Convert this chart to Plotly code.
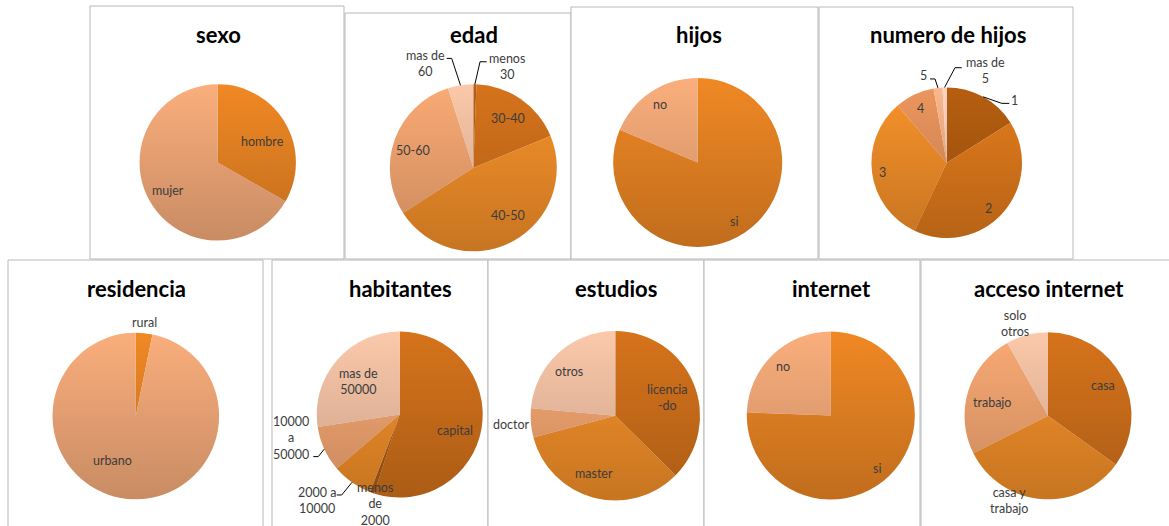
import base64
import math

import plotly.graph_objects as go

W, H = 1169, 526

# ---- survey data (percent of respondents) ----
sexo_labels = ["hombre", "mujer"]
sexo_values = [33.3, 66.7]

edad_labels = ["menos<br>30", "30-40", "40-50", "50-60", "mas de<br>60"]
edad_values = [0.6, 18.2, 47.1, 29.2, 4.9]

hijos_labels = ["si", "no"]
hijos_values = [81.3, 18.7]

num_hijos_labels = ["1", "2", "3", "4", "5", "mas de<br>5"]
num_hijos_values = [16.1, 40.9, 31.7, 8.5, 1.9, 0.9]

residencia_labels = ["rural", "urbano"]
residencia_values = [3.2, 96.8]

habitantes_labels = ["capital", "menos<br>de<br>2000", "2000 a<br>10000", "10000<br>a<br>50000", "mas de<br>50000"]
habitantes_values = [55.0, 0.8, 7.9, 8.9, 27.4]

estudios_labels = ["licencia<br>-do", "master", "doctor", "otros"]
estudios_values = [37.4, 33.5, 5.5, 23.6]

internet_labels = ["si", "no"]
internet_values = [75.6, 24.4]

acceso_labels = ["casa", "casa y<br>trabajo", "trabajo", "solo<br>otros"]
acceso_values = [34.9, 32.7, 24.3, 8.1]

# ---- styling ----
DARKEST = "#B65E10"
DARK = "#D6731B"
ORANGE = "#F8922A"
ORANGE2 = "#F08824"
PEACH = "#FAAA74"
PEACH2 = "#FAAE7C"
LIGHT = "#FBC8AA"

TITLE_FONT = dict(family="Lato", size=22, color="#000000", weight="bold")
LABEL_FONT = dict(family="Lato", size=12.5, color="#3C3C3C")
BORDER = "#B8B8B8"

# title centre height for the upper and lower rows of charts
TITLE_Y = {0: 34, 1: 288}

# each label: (radial factor, angle shift in degrees, leader) where leader is
# None or ((end_dx, end_dy), (elbow_dx, elbow_dy)) relative to the label centre
panels = [
    dict(title="sexo", row=0, labels=sexo_labels, values=sexo_values,
         colors=[ORANGE2, PEACH2], center=(217.7, 162.4), r=78.2,
         box=(90, 6, 344, 259),
         place=[(0.633, 4.5, None), (0.73, 0, None)]),
    dict(title="edad", row=0, labels=edad_labels, values=edad_values,
         colors=[DARKEST, DARK, ORANGE, PEACH, LIGHT], center=(473.3, 167.8), r=83.5,
         box=(345, 13, 571, 259),
         place=[(1.277, 17.2, ((-20, -4.8), (-26.7, -4.8))),
                (0.725, 0.4, None), (0.704, -9, None), (0.755, -3.5, None),
                (1.376, -15.5, ((20.7, -4.7), (25.7, -4.7)))]),
    dict(title="hijos", row=0, labels=hijos_labels, values=hijos_values,
         colors=[ORANGE2, PEACH2], center=(697.7, 162.4), r=84.5,
         box=(571, 7, 818, 259),
         place=[(0.826, 2.1, None), (0.819, 0.7, None)]),
    dict(title="numero de hijos", row=0, labels=num_hijos_labels, values=num_hijos_values,
         colors=[DARKEST, "#E47C1C", ORANGE, "#EC965E", "#FBB68C", "#FCD4C2"],
         center=(946.7, 162.7), r=75.3, box=(819, 7, 1073, 259),
         place=[(1.224, 18.2, ((-5, 3.3), (-12.6, 3.3))),
                (0.826, 5.6, None), (0.86, -1.2, None), (0.803, -0.5, None),
                (1.193, -8.4, ((6.7, 3), (11.7, 3))),
                (1.32, 24.3, ((-23.3, -3.3), (-30, -3.3)))]),
    dict(title="residencia", row=1, labels=residencia_labels, values=residencia_values,
         colors=[ORANGE2, PEACH2], center=(135.8, 416.0), r=83.3,
         box=(8, 260, 263, 540),
         place=[(1.125, -0.6, None), (0.604, 21.5, None)]),
    dict(title="habitantes", row=1, labels=habitantes_labels, values=habitantes_values,
         colors=[DARK, DARKEST, ORANGE, PEACH, LIGHT], center=(399.7, 414.5), r=83.0,
         box=(272, 260, 488, 540),
         place=[(0.692, 6.7, None), (1.115, -3.9, None),
                (1.44, 8.9, ((20, -5.5), (25, -5.5))),
                (1.345, 12.3, ((22.6, 18.2), (27.6, 18.2))),
                (0.64, -2, None)]),
    dict(title="estudios", row=1, labels=estudios_labels, values=estudios_values,
         colors=[DARK, ORANGE, PEACH, LIGHT], center=(615.3, 415.8), r=84.7,
         box=(488, 260, 704, 540),
         place=[(0.657, 3, None), (0.73, 4.9, None), (1.235, 0.2, None), (0.752, -3.7, None)]),
    dict(title="internet", row=1, labels=internet_labels, values=internet_values,
         colors=[ORANGE2, PEACH2], center=(830.8, 415.5), r=84.0,
         box=(704, 260, 920, 540),
         place=[(0.833, 2.9, None), (0.81, -0.3, None)]),
    dict(title="acceso internet", row=1, labels=acceso_labels, values=acceso_values,
         colors=[DARK, ORANGE, PEACH, LIGHT], center=(1048.0, 415.8), r=83.5,
         box=(921, 260, 1180, 540),
         place=[(0.754, -1.4, None), (1.12, 20.1, None), (0.692, -4, None), (1.176, -5, None)]),
]


def px(x):
    return x / W


def py(y):
    return 1 - y / H


# vertical shading laid over every pie
shade_svg = (
    '<svg xmlns="http://www.w3.org/2000/svg" width="200" height="200" viewBox="0 0 200 200">'
    '<defs><linearGradient id="g" x1="0" y1="0" x2="0" y2="1">'
    '<stop offset="0" stop-color="#000" stop-opacity="0"/>'
    '<stop offset="1" stop-color="#000" stop-opacity="0.2"/>'
    '</linearGradient></defs>'
    '<circle cx="100" cy="100" r="100" fill="url(#g)"/></svg>'
)
shade_src = "data:image/svg+xml;base64," + base64.b64encode(shade_svg.encode()).decode()

fig = go.Figure()
shapes, annotations, images = [], [], []

for p in panels:
    x0, y0, x1, y1 = p["box"]
    shapes.append(dict(type="rect", xref="paper", yref="paper", layer="below",
                       x0=px(x0), x1=px(x1), y0=py(y1), y1=py(y0),
                       fillcolor="white", line=dict(color=BORDER, width=1)))

for p in panels:
    cx, cy = p["center"]
    r = p["r"]
    fig.add_trace(go.Pie(
        labels=p["labels"], values=p["values"], sort=False, direction="clockwise",
        rotation=0, textinfo="none", hoverinfo="label+percent", showlegend=False,
        marker=dict(colors=p["colors"], line=dict(width=0)),
        domain=dict(x=[px(cx - r), px(cx + r)], y=[py(cy + r), py(cy - r)]),
    ))
    images.append(dict(source=shade_src, xref="paper", yref="paper",
                       x=px(cx - r), y=py(cy - r), sizex=2 * r / W, sizey=2 * r / H,
                       xanchor="left", yanchor="top", sizing="stretch", layer="above"))

    annotations.append(dict(text=p["title"], xref="paper", yref="paper",
                            x=px(cx + 1), y=py(TITLE_Y[p["row"]]), xanchor="center",
                            yanchor="middle", showarrow=False, font=TITLE_FONT))

    total = sum(p["values"])
    cum = 0.0
    for lab, val, (fac, dang, leader) in zip(p["labels"], p["values"], p["place"]):
        mid = (cum + val / 2) / total * 360.0
        cum += val
        a = math.radians(mid + dang)
        lx = cx + fac * r * math.sin(a)
        ly = cy - fac * r * math.cos(a)
        annotations.append(dict(text=lab, xref="paper", yref="paper", x=px(lx), y=py(ly),
                                xanchor="center", yanchor="middle", showarrow=False,
                                align="center", font=LABEL_FONT))
        if leader:
            m = math.radians(mid)
            ex, ey = cx + r * math.sin(m), cy - r * math.cos(m)
            (dx1, dy1), (dx2, dy2) = leader
            path = (f"M {px(ex)} {py(ey)} L {px(lx + dx2)} {py(ly + dy2)} "
                    f"L {px(lx + dx1)} {py(ly + dy1)}")
            shapes.append(dict(type="path", xref="paper", yref="paper", path=path,
                               line=dict(color="#000000", width=1)))

fig.update_layout(
    width=W, height=H, margin=dict(l=0, r=0, t=0, b=0),
    paper_bgcolor="white", plot_bgcolor="white",
    shapes=shapes, annotations=annotations, images=images,
)

fig.write_html("out.html")
